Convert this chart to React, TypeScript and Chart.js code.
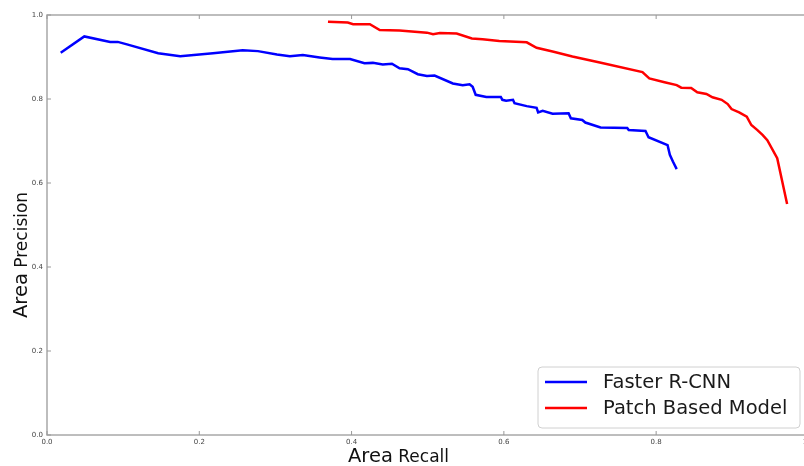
import React, { useEffect, useRef } from "react";
import { Chart, registerables } from "chart.js";

Chart.register(...registerables);

const fasterRecall = [0.018, 0.049, 0.083, 0.093, 0.105, 0.146, 0.175, 0.218, 0.257, 0.277, 0.302, 0.319, 0.336, 0.358, 0.375, 0.398, 0.417, 0.428, 0.441, 0.453, 0.463, 0.474, 0.487, 0.499, 0.509, 0.533, 0.546, 0.555, 0.559, 0.563, 0.577, 0.596, 0.598, 0.603, 0.612, 0.614, 0.630, 0.643, 0.645, 0.651, 0.664, 0.685, 0.688, 0.703, 0.707, 0.727, 0.762, 0.764, 0.786, 0.790, 0.815, 0.818, 0.822, 0.827];
const fasterPrecision = [0.910, 0.949, 0.936, 0.936, 0.930, 0.909, 0.902, 0.909, 0.916, 0.914, 0.906, 0.902, 0.905, 0.899, 0.895, 0.895, 0.885, 0.886, 0.882, 0.884, 0.873, 0.871, 0.859, 0.855, 0.856, 0.837, 0.833, 0.835, 0.829, 0.810, 0.805, 0.805, 0.798, 0.796, 0.798, 0.790, 0.783, 0.779, 0.768, 0.772, 0.765, 0.766, 0.754, 0.750, 0.744, 0.732, 0.731, 0.726, 0.724, 0.709, 0.690, 0.667, 0.651, 0.633];

const patchRecall = [0.369, 0.395, 0.402, 0.424, 0.437, 0.463, 0.499, 0.507, 0.516, 0.538, 0.558, 0.572, 0.594, 0.630, 0.643, 0.664, 0.690, 0.726, 0.782, 0.791, 0.811, 0.827, 0.833, 0.846, 0.854, 0.866, 0.874, 0.886, 0.894, 0.899, 0.909, 0.919, 0.925, 0.933, 0.940, 0.946, 0.959, 0.972];
const patchPrecision = [0.984, 0.982, 0.978, 0.978, 0.964, 0.963, 0.958, 0.954, 0.957, 0.956, 0.944, 0.942, 0.938, 0.935, 0.922, 0.913, 0.901, 0.887, 0.864, 0.849, 0.840, 0.833, 0.827, 0.826, 0.816, 0.812, 0.804, 0.798, 0.788, 0.776, 0.768, 0.758, 0.738, 0.726, 0.714, 0.702, 0.659, 0.550];

const seriesNames = ["Faster R-CNN", "Patch Based Model"];
const seriesColors = ["#0000ff", "#ff0000"];
const tickValues = [0, 0.2, 0.4, 0.6, 0.8, 1.0];

const FONT = "'DejaVu Sans', sans-serif";
const CANVAS_W = 817;

const decorPlugin = {
  id: "decor",
  afterDraw(chart: any) {
    const ctx = chart.ctx as CanvasRenderingContext2D;
    const { left, right, top, bottom } = chart.chartArea;
    const xs = chart.scales.x;
    const ys = chart.scales.y;
    ctx.save();
    ctx.strokeStyle = "#a8a8a8";
    ctx.lineWidth = 1.5;
    ctx.strokeRect(left, top, right - left, bottom - top);
    ctx.lineWidth = 1;
    ctx.strokeStyle = "#999";
    const tl = 4;
    tickValues.forEach((v) => {
      const px = xs.getPixelForValue(v);
      ctx.beginPath();
      ctx.moveTo(px, bottom);
      ctx.lineTo(px, bottom - tl);
      ctx.moveTo(px, top);
      ctx.lineTo(px, top + tl);
      ctx.stroke();
      const py = ys.getPixelForValue(v);
      ctx.beginPath();
      ctx.moveTo(left, py);
      ctx.lineTo(left + tl, py);
      ctx.moveTo(right, py);
      ctx.lineTo(right - tl, py);
      ctx.stroke();
    });

    ctx.fillStyle = "#111";
    ctx.textBaseline = "alphabetic";
    ctx.textAlign = "left";
    ctx.font = `19.5px ${FONT}`;
    const areaW = ctx.measureText("Area").width;
    const xStart = 348;
    ctx.fillText("Area", xStart, 462);
    ctx.font = `17px ${FONT}`;
    const spW = ctx.measureText(" ").width;
    ctx.fillText("Recall", xStart + areaW + spW, 462);

    ctx.save();
    ctx.translate(27, 318);
    ctx.rotate(-Math.PI / 2);
    ctx.font = `19.5px ${FONT}`;
    const areaW2 = ctx.measureText("Area").width;
    ctx.fillText("Area", 0, 0);
    ctx.font = `17px ${FONT}`;
    ctx.fillText("Precision", areaW2 + ctx.measureText(" ").width, 0);
    ctx.restore();

    const bx = 538, by = 367, bw = 262, bh = 61, r = 4;
    ctx.beginPath();
    ctx.moveTo(bx + r, by);
    ctx.lineTo(bx + bw - r, by);
    ctx.quadraticCurveTo(bx + bw, by, bx + bw, by + r);
    ctx.lineTo(bx + bw, by + bh - r);
    ctx.quadraticCurveTo(bx + bw, by + bh, bx + bw - r, by + bh);
    ctx.lineTo(bx + r, by + bh);
    ctx.quadraticCurveTo(bx, by + bh, bx, by + bh - r);
    ctx.lineTo(bx, by + r);
    ctx.quadraticCurveTo(bx, by, bx + r, by);
    ctx.closePath();
    ctx.fillStyle = "rgba(255,255,255,0.9)";
    ctx.fill();
    ctx.strokeStyle = "#d0d0d0";
    ctx.lineWidth = 1;
    ctx.stroke();
    const rows = [382, 408];
    seriesNames.forEach((name, i) => {
      ctx.strokeStyle = seriesColors[i];
      ctx.lineWidth = 2.5;
      ctx.beginPath();
      ctx.moveTo(545, rows[i]);
      ctx.lineTo(587, rows[i]);
      ctx.stroke();
      ctx.fillStyle = "#1a1a1a";
      ctx.font = `19.5px ${FONT}`;
      ctx.textBaseline = "middle";
      ctx.textAlign = "left";
      ctx.fillText(name, 603, rows[i] + 1);
    });
    ctx.restore();
  },
};

export default function App() {
  const ref = useRef<HTMLCanvasElement | null>(null);
  useEffect(() => {
    if (!ref.current) return;
    const tickFont = { family: FONT, size: 7 };
    const chart = new Chart(ref.current, {
      type: "line",
      data: {
        datasets: [
          {
            label: seriesNames[0],
            data: fasterRecall.map((x, i) => ({ x, y: fasterPrecision[i] })),
            borderColor: seriesColors[0],
            borderWidth: 2.5,
            pointRadius: 0,
            tension: 0,
            fill: false,
          },
          {
            label: seriesNames[1],
            data: patchRecall.map((x, i) => ({ x, y: patchPrecision[i] })),
            borderColor: seriesColors[1],
            borderWidth: 2.5,
            pointRadius: 0,
            tension: 0,
            fill: false,
          },
        ],
      },
      options: {
        responsive: false,
        devicePixelRatio: 1,
        animation: false,
        parsing: false as any,
        layout: { padding: { top: 15, right: 0, left: 0, bottom: 0 } },
        plugins: { legend: { display: false }, tooltip: { enabled: false } },
        scales: {
          x: {
            type: "linear",
            min: 0,
            max: 1,
            grid: { display: false, drawTicks: false },
            border: { display: false },
            afterBuildTicks: (s: any) => {
              s.ticks = tickValues.map((v) => ({ value: v }));
            },
            ticks: {
              padding: 3,
              color: "#444",
              font: tickFont,
              maxRotation: 0,
              autoSkip: false,
              callback: (v: any) => Number(v).toFixed(1),
            },
            afterFit: (s: any) => {
              s.height = 31;
            },
          },
          y: {
            type: "linear",
            min: 0,
            max: 1,
            grid: { display: false, drawTicks: false },
            border: { display: false },
            afterBuildTicks: (s: any) => {
              s.ticks = tickValues.map((v) => ({ value: v }));
            },
            ticks: {
              padding: 4,
              color: "#444",
              font: tickFont,
              autoSkip: false,
              callback: (v: any) => Number(v).toFixed(1),
            },
            afterFit: (s: any) => {
              s.width = 47;
            },
          },
        },
      },
      plugins: [decorPlugin],
    });
    return () => chart.destroy();
  }, []);
  return (
    <div
      style={{
        position: "fixed",
        left: 0,
        top: 0,
        width: 804,
        height: 466,
        overflow: "hidden",
        background: "#fff",
      }}
    >
      <canvas ref={ref} width={CANVAS_W} height={466} style={{ width: CANVAS_W, height: 466, display: "block" }} />
    </div>
  );
}
